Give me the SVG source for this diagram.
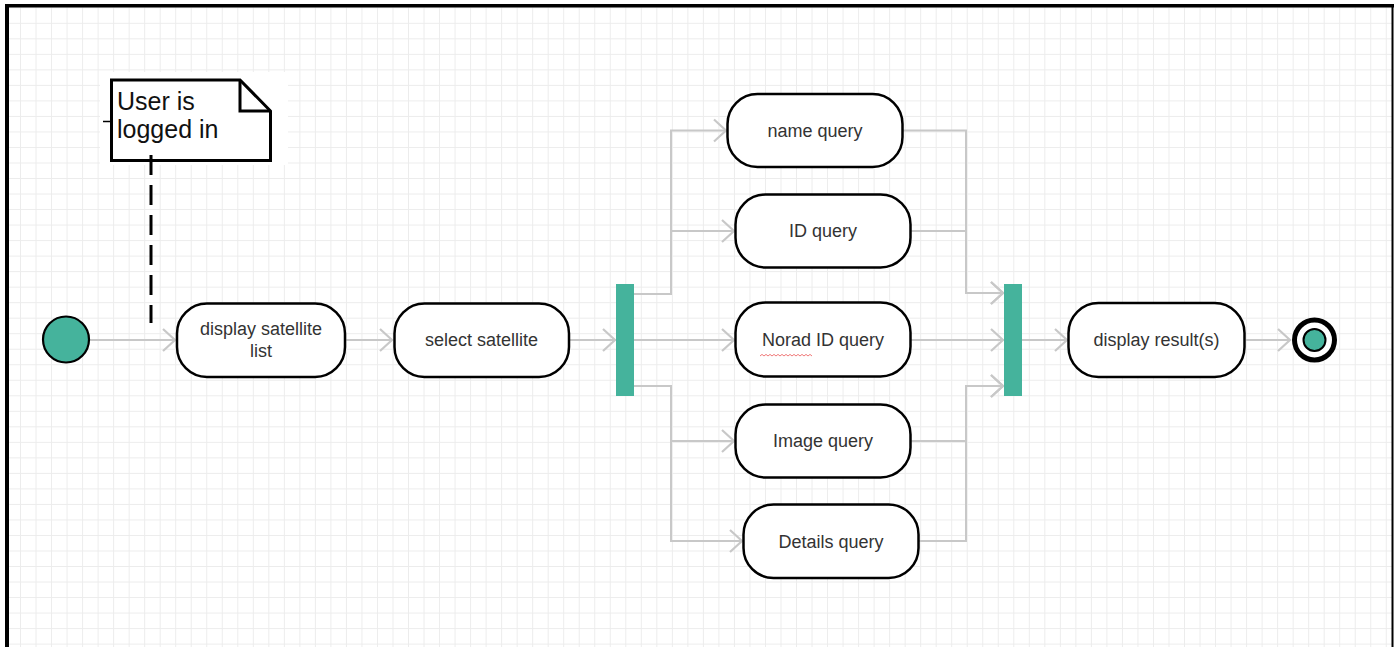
<svg xmlns="http://www.w3.org/2000/svg" width="1394" height="647" viewBox="0 0 1394 647">
  <defs>
    <pattern id="grid" patternUnits="userSpaceOnUse" x="4.5" y="7.3" width="15.52" height="15.52">
      <path d="M0.5 0 V15.52 M0 0.5 H15.52" fill="none" stroke="#ececec" stroke-width="1"/>
    </pattern>
    <marker id="open-arrow" markerUnits="userSpaceOnUse" markerWidth="20" markerHeight="26" refX="15" refY="13" orient="auto">
      <path d="M2,2 L14,13 L2,24" fill="none" stroke="#c8c8c8" stroke-width="2.2"/>
    </marker>
    <style>
      .edge { fill: none; stroke: #c8c8c8; stroke-width: 2; marker-end: url(#open-arrow); }
      .action { fill: #ffffff; stroke: #000000; stroke-width: 2.5; }
      .label { font-family: "Liberation Sans", Arial, sans-serif; font-size: 18px; fill: #333333; text-anchor: middle; }
      .bar { fill: #45b39c; }
      .note-text { font-family: "Liberation Sans", Arial, sans-serif; font-size: 25px; fill: #111111; }
    </style>
  </defs>

  <!-- canvas with grid and frame -->
  <rect x="0" y="0" width="1394" height="647" fill="#ffffff"/>
  <rect x="5" y="4" width="1388" height="643" fill="url(#grid)"/>
  <rect x="5" y="4" width="1389" height="3.5" fill="#000000"/>
  <rect x="5" y="4" width="4" height="643" fill="#000000"/>
  <rect x="1391.5" y="4" width="2" height="643" fill="#000000"/>

  <!-- connectors -->
  <g id="connectors">
    <path class="edge" d="M89,340 H176"/>
    <path class="edge" d="M345,340 H393"/>
    <path class="edge" d="M569,340 H616"/>
    <path class="edge" d="M633,294 H671 V130.5 H727"/>
    <path class="edge" d="M633,294 H671 V231 H735"/>
    <path class="edge" d="M633,340 H735"/>
    <path class="edge" d="M633,386 H671 V441 H735"/>
    <path class="edge" d="M633,386 H671 V541 H743"/>
    <path class="edge" d="M903,130.5 H966 V293 H1004"/>
    <path class="edge" d="M911,231 H966 V293 H1004"/>
    <path class="edge" d="M911,340 H1004"/>
    <path class="edge" d="M911,441 H966 V386 H1004"/>
    <path class="edge" d="M919,541 H966 V386 H1004"/>
    <path class="edge" d="M1022,340 H1068"/>
    <path class="edge" d="M1246,340 H1291"/>
  </g>

  <!-- precondition note -->
  <g id="note">
    <rect x="100" y="72" width="188" height="93" fill="#ffffff"/>
    <line x1="103" y1="121.5" x2="111" y2="121.5" stroke="#000000" stroke-width="1.5"/>
    <polygon points="111.5,80 240,80 270.5,111 270.5,160.5 111.5,160.5" fill="#ffffff" stroke="#000000" stroke-width="3"/>
    <path d="M240,80 V111 H270.5" fill="none" stroke="#000000" stroke-width="3"/>
    <text class="note-text" x="117" y="110">User is</text>
    <text class="note-text" x="117" y="138">logged in</text>
    <line x1="151" y1="155" x2="151" y2="323" stroke="#000000" stroke-width="3" stroke-dasharray="20 10"/>
  </g>

  <!-- initial node -->
  <g id="start">
    <circle cx="66" cy="339.5" r="23" fill="#45b39c" stroke="#000000" stroke-width="2.2"/>
  </g>

  <g id="display-list">
    <rect class="action" x="177" y="303.5" width="168" height="73.5" rx="30"/>
    <text class="label" x="261" y="335">display satellite</text>
    <text class="label" x="261" y="357">list</text>
  </g>

  <g id="select-satellite">
    <rect class="action" x="394.5" y="303.5" width="174.5" height="73.5" rx="30"/>
    <text class="label" x="481.5" y="346">select satellite</text>
  </g>

  <g id="fork">
    <rect class="bar" x="616" y="284" width="18" height="112"/>
  </g>

  <g id="name-query">
    <rect class="action" x="727.5" y="94" width="175" height="73" rx="30"/>
    <text class="label" x="815" y="136.5">name query</text>
  </g>

  <g id="id-query">
    <rect class="action" x="735.5" y="194.5" width="175" height="73" rx="30"/>
    <text class="label" x="823" y="237">ID query</text>
  </g>

  <g id="norad-query">
    <rect class="action" x="735.5" y="302.5" width="175" height="74" rx="30"/>
    <text class="label" x="823" y="346">Norad ID query</text>
    <path d="M760,356 l2,-1.6 l2,1.6 l2,-1.6 l2,1.6 l2,-1.6 l2,1.6 l2,-1.6 l2,1.6 l2,-1.6 l2,1.6 l2,-1.6 l2,1.6 l2,-1.6 l2,1.6 l2,-1.6 l2,1.6 l2,-1.6 l2,1.6 l2,-1.6 l2,1.6 l2,-1.6 l2,1.6 l2,-1.6 l2,1.6 l2,-1.6 l2,1.6" fill="none" stroke="#f07a7a" stroke-width="1"/>
  </g>

  <g id="image-query">
    <rect class="action" x="735.5" y="404.5" width="175" height="73" rx="30"/>
    <text class="label" x="823" y="447">Image query</text>
  </g>

  <g id="details-query">
    <rect class="action" x="743.5" y="504.5" width="175" height="73.5" rx="30"/>
    <text class="label" x="831" y="547.5">Details query</text>
  </g>

  <g id="join">
    <rect class="bar" x="1004" y="284" width="18" height="112"/>
  </g>

  <g id="display-results">
    <rect class="action" x="1068.5" y="303" width="176" height="74" rx="30"/>
    <text class="label" x="1156.5" y="346">display result(s)</text>
  </g>

  <!-- final node -->
  <g id="end">
    <circle cx="1314.5" cy="340" r="20" fill="#ffffff" stroke="#000000" stroke-width="5"/>
    <circle cx="1314.5" cy="340" r="11" fill="#45b39c" stroke="#000000" stroke-width="2"/>
  </g>
</svg>
